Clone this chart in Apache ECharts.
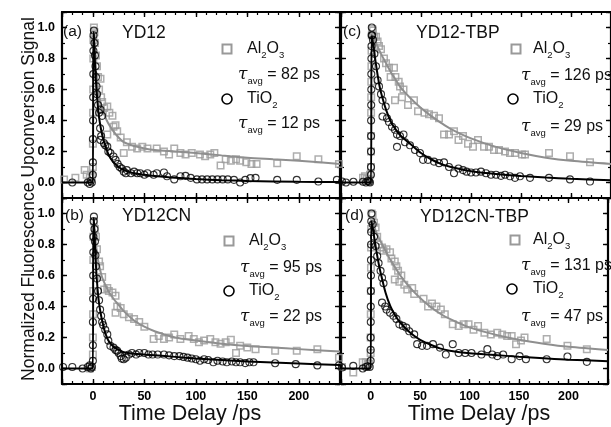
<!DOCTYPE html>
<html><head><meta charset="utf-8">
<script src="https://cdn.jsdelivr.net/npm/echarts@6/dist/echarts.min.js"></script>
<style>html,body{margin:0;padding:0;background:#fff}#c{width:611px;height:427px}</style>
</head><body><div id="c"></div>
<script>
// ---------- tick labels / text ----------
const xTickLabels = ['0', '50', '100', '150', '200'];
const yTickLabels = ['0.0', '0.2', '0.4', '0.6', '0.8', '1.0'];
const panelLabels = ['(a)', '(b)', '(c)', '(d)'];
const panelTitles = ['YD12', 'YD12CN', 'YD12-TBP', 'YD12CN-TBP'];
const tauAl = ['82', '95', '126', '131'];
const tauTi = ['12', '22', '29', '47'];
const xTitle = 'Time Delay /ps';
const yTitle = 'Normalized Fluorescence Upconversion Signal';

// ---------- panel (a) YD12 ----------
const aAl2O3 = [[-28,0.02],[-17,0.03],[-8,0.08],[-6,0.05],[-3,0.03],[-1,0.04],
 [0,0.1],[0,0.25],[0.2,0.45],[0.3,0.6],[0.4,0.8],[0.5,0.92],[1,1.0],[1.5,0.97],
 [2,0.9],[3,0.82],[4,0.75],[5,0.68],[6,0.6],[7.4,0.67],[8,0.55],[9,0.52],[11,0.48],[14,0.49],[16,0.45],[19,0.43],
 [14,0.31],[20,0.36],[22,0.37],[23.6,0.33],[27,0.29],[30,0.19],[33,0.26],[38,0.23],[43,0.22],[48,0.23],[53,0.22],
 [62,0.22],[69,0.2],[74,0.18],[79,0.22],[85,0.19],[90,0.18],[96,0.19],[104,0.18],[109,0.17],[114,0.18],[118,0.19],
 [124,0.11],[129,0.15],[134,0.14],[139,0.15],[143,0.14],[149,0.13],[154,0.12],[159,0.12],[179,0.125],[198,0.17],[219,0.15],[239,0.12]];
const aAl2O3Fit = [[1.5,0.9],[3,0.72],[5,0.6],[8,0.5],[11,0.44],[15,0.38],[20,0.33],[25,0.29],[30,0.26],[40,0.235],[50,0.22],
 [60,0.21],[80,0.2],[100,0.19],[125,0.175],[150,0.16],[175,0.15],[200,0.14],[220,0.13],[240,0.12]];
const aTiO2 = [[-20,0],[-5,0],[-3,-0.01],[-2,0.01],[-1,0],
 [0,0.05],[0,0.13],[0,0.28],[0.2,0.4],[0.3,0.55],[0.4,0.7],[0.5,0.85],[0.6,0.95],[1,0.98],
 [1.5,0.9],[2,0.82],[2.5,0.75],[3,0.68],[3.5,0.62],[4,0.57],[5,0.5],[6,0.45],[7.4,0.47],[9,0.43],[7,0.35],[8,0.3],
 [7.4,0.275],[10.7,0.254],[12,0.24],[14,0.232],[15,0.2],[17,0.19],[20,0.168],[22,0.146],[24,0.12],[26,0.1],[28,0.09],
 [30,0.07],[32,0.06],[33,0.08],[37,0.06],[40,0.07],[43,0.06],[46,0.06],[50,0.05],[53,0.06],[59,0.05],[62,0.06],[69,0.065],
 [72,0.04],[79,0.02],[85,0.04],[90,0.043],[95,0.03],[101,0.02],[106,0.02],[111,0.02],[116,0.02],[121,0.02],[126,0.02],
 [131,0.02],[137,0.017],[143,0.0],[148,0.017],[153,0.028],[158,0.03],[179,0.017],[198,0.017],[219,0.006],[237,0.017]];
const aTiO2Fit = [[-30,0],[0,0],[0.4,0.97],[1,0.95],[2,0.78],[3,0.65],[4,0.56],[5,0.48],[6,0.42],[8,0.34],[10,0.28],[12,0.24],
 [14,0.2],[16,0.17],[20,0.13],[25,0.1],[30,0.08],[40,0.06],[50,0.05],[60,0.042],[80,0.03],[100,0.022],[125,0.015],
 [150,0.01],[200,0.005],[240,0.003]];

// ---------- panel (b) YD12CN ----------
const bAl2O3 = [[-3,0.0],[-1,0.01],
 [0,0.09],[0,0.2],[0.2,0.35],[0.3,0.5],[0.4,0.7],[0.5,0.85],[1,0.95],
 [2,0.9],[3,0.85],[4,0.77],[6,0.69],[7,0.66],[9,0.59],[11,0.51],[14,0.52],[15.5,0.5],[19,0.49],[22,0.47],[22,0.36],
 [23.6,0.4],[27,0.39],[30,0.35],[35,0.33],[40,0.32],[45,0.3],[50,0.27],[59,0.19],[64,0.21],[69,0.19],[74,0.2],[79,0.22],
 [85,0.19],[93,0.21],[98,0.19],[103,0.17],[108,0.18],[114,0.19],[119,0.17],[124,0.16],[129,0.17],[134,0.185],[139,0.1],
 [143,0.146],[150,0.135],[158,0.125],[177,0.114],[198,0.114],[218,0.125],[239,0.07]];
const bAl2O3Fit = [[1.5,0.9],[3,0.8],[5,0.7],[8,0.61],[10,0.57],[15,0.5],[20,0.45],[25,0.41],[30,0.37],[40,0.31],[50,0.27],
 [60,0.24],[80,0.2],[100,0.18],[125,0.16],[150,0.145],[175,0.135],[200,0.125],[240,0.11]];
const bTiO2 = [[-29,0.01],[-20,0.01],[-10,0.0],[-5,0.01],[-3,0.02],[-2,0.0],[-1,0.01],
 [0,0.05],[0,0.15],[0,0.3],[0.2,0.45],[0.3,0.6],[0.4,0.75],[0.5,0.85],[0.7,0.95],[1,0.98],
 [1.5,0.9],[2,0.82],[2.5,0.73],[3,0.66],[4,0.58],[5,0.5],[6,0.44],[7,0.38],[8,0.34],[9,0.3],[10,0.28],[12,0.25],[14,0.22],
 [15,0.18],[17,0.146],[20,0.135],[22,0.12],[23.6,0.114],[25,0.1],[27,0.08],[28,0.064],[30,0.06],[32,0.07],[35,0.09],
 [38,0.1],[42,0.09],[45,0.1],[50,0.1],[54,0.09],[58,0.09],[63,0.09],[69,0.09],[74,0.085],[79,0.08],[84,0.08],[88,0.075],
 [92,0.07],[96,0.065],[100,0.06],[104,0.05],[108,0.06],[112,0.055],[117,0.04],[121,0.05],[126,0.045],[130,0.04],
 [135,0.045],[139,0.04],[143,0.04],[148,0.035],[152,0.04],[156,0.04],[177,0.034],[197,0.028],[218,0.02],[239,0.02]];
const bTiO2Fit = [[-30,0],[0,0],[0.4,0.97],[1,0.95],[2,0.8],[3,0.66],[4,0.56],[5,0.48],[6,0.42],[8,0.34],[10,0.28],[12,0.23],
 [15,0.18],[20,0.14],[25,0.12],[30,0.105],[40,0.095],[50,0.09],[60,0.085],[80,0.075],[100,0.065],[125,0.055],[150,0.045],
 [175,0.038],[200,0.032],[240,0.022]];

// ---------- panel (c) YD12-TBP ----------
const cAl2O3 = [[-8,0.03],[-6,0.04],[-4,0.025],[-2,0.02],[-1,0.05],
 [0,0.1],[0,0.2],[0,0.3],[0.1,0.45],[0.2,0.55],[0.3,0.65],[0.4,0.75],[0.5,0.85],[0.8,0.95],[1.2,0.99],
 [2,0.98],[3,0.94],[5,0.94],[6.6,0.91],[8,0.88],[10,0.86],[13,0.8],[15,0.77],[18,0.74],[23,0.74],[19.6,0.68],[24.4,0.68],
 [27.7,0.65],[29,0.62],[32.5,0.6],[24,0.53],[31,0.55],[37,0.5],[43,0.53],[47,0.46],[53.5,0.45],[58,0.44],[63,0.43],
 [68,0.415],[73,0.31],[78,0.31],[83,0.33],[87.5,0.275],[92,0.3],[97,0.25],[102,0.23],[107,0.275],[113,0.23],[118,0.23],
 [123,0.21],[128,0.21],[134,0.2],[139,0.19],[144,0.19],[151,0.18],[154,0.18],[178,0.19],[199,0.17],[219,0.13]];
const cAl2O3Fit = [[2,0.95],[5,0.9],[10,0.83],[15,0.77],[20,0.71],[25,0.66],[30,0.61],[40,0.54],[50,0.48],[60,0.43],
 [70,0.385],[80,0.345],[100,0.285],[125,0.23],[150,0.19],[175,0.16],[200,0.14],[240,0.12]];
const cTiO2 = [[-29,0.006],[-25,0.0],[-17.6,0.005],[-8,0.005],[-5,0.0],[-3,0.01],[-2,0.005],[-1,0.0],
 [0,0.05],[0,0.1],[0,0.2],[0.1,0.3],[0.1,0.4],[0.2,0.5],[0.3,0.6],[0.3,0.7],[0.4,0.8],[0.5,0.88],[0.6,0.95],[0.8,1.0],
 [1.2,0.95],[2,0.92],[3.4,0.83],[5,0.75],[6.6,0.66],[8,0.62],[10,0.57],[11.5,0.53],[14.7,0.49],[11.5,0.426],[16,0.415],
 [18,0.39],[21,0.36],[24,0.34],[26,0.31],[29,0.3],[32.5,0.31],[34,0.26],[26,0.23],[39,0.24],[44,0.21],[49,0.19],[52,0.146],
 [57,0.146],[63,0.135],[68,0.125],[73,0.13],[78,0.1],[83,0.06],[87.5,0.09],[92,0.08],[95.6,0.07],[100,0.065],[105,0.065],
 [110,0.07],[115,0.06],[120,0.05],[125,0.05],[130,0.043],[134,0.05],[139,0.04],[144,0.03],[149,0.04],[159,0.03],
 [178,0.03],[199,0.02],[219,0.006]];
const cTiO2Fit = [[-30,0],[0,0],[0.6,0.95],[2,0.9],[5,0.76],[8,0.64],[10,0.58],[15,0.47],[20,0.39],[25,0.34],[30,0.3],
 [40,0.245],[50,0.19],[60,0.15],[70,0.12],[80,0.1],[90,0.085],[100,0.073],[125,0.055],[150,0.042],[175,0.032],
 [200,0.024],[240,0.015]];

// ---------- panel (d) YD12CN-TBP ----------
const dAl2O3 = [[-29,0.01],[-17.6,-0.026],[-8,0.04],[-5,0.04],[-3,0.03],[-1.5,0.03],
 [0,0.1],[0,0.2],[0.1,0.35],[0.2,0.5],[0.3,0.65],[0.4,0.78],[0.5,0.9],[1,1.0],
 [2,0.99],[3.4,0.94],[5,0.91],[6.6,0.85],[8,0.8],[11.5,0.78],[13,0.76],[16,0.77],[19.6,0.75],[21,0.71],[24.4,0.69],
 [26,0.66],[27.7,0.63],[24.4,0.575],[29,0.56],[31,0.6],[34,0.54],[37,0.51],[42,0.52],[44,0.48],[53.5,0.45],[58,0.4],
 [62,0.42],[66.5,0.4],[71,0.38],[75,0.35],[83,0.285],[89,0.275],[94,0.285],[99,0.285],[104,0.25],[108.6,0.275],
 [115,0.23],[121.5,0.22],[128,0.23],[133,0.22],[138,0.21],[142.6,0.21],[147,0.157],[152,0.18],[155.6,0.2],
 [178,0.19],[199,0.146],[218.6,0.125]];
const dAl2O3Fit = [[2,0.95],[5,0.89],[10,0.82],[15,0.76],[20,0.7],[25,0.65],[30,0.6],[40,0.52],[50,0.455],[60,0.4],
 [70,0.355],[80,0.32],[100,0.265],[125,0.22],[150,0.185],[175,0.16],[200,0.14],[240,0.12]];
const dTiO2 = [[-29,0.006],[-17.6,0.017],[-8,0.0],[-5,0.01],[-3,0.015],[-1,0.01],
 [0,0.05],[0,0.12],[0,0.2],[0.1,0.3],[0.1,0.4],[0.2,0.5],[0.3,0.6],[0.3,0.7],[0.4,0.8],[0.5,0.88],[0.6,0.95],[0.8,1.0],
 [2,0.93],[3.4,0.85],[5,0.79],[6.6,0.725],[8,0.68],[10,0.63],[11.5,0.585],[13,0.55],[11.5,0.425],[14.7,0.4],[16,0.38],
 [19.6,0.36],[23,0.34],[26,0.32],[29,0.285],[32.5,0.275],[36,0.264],[39,0.24],[44,0.22],[47,0.157],[52,0.146],
 [57,0.146],[63,0.157],[70,0.135],[76,0.09],[83,0.157],[89,0.1],[95.6,0.1],[102,0.1],[112,0.09],[118,0.125],[123,0.09],
 [128,0.08],[134,0.09],[142.6,0.06],[150.6,0.08],[157,0.06],[178,0.06],[199,0.077],[218.6,0.043]];
const dTiO2Fit = [[-30,0],[0,0],[0.6,0.95],[2,0.91],[5,0.79],[8,0.68],[10,0.62],[15,0.49],[20,0.4],[25,0.34],[30,0.295],
 [40,0.23],[50,0.185],[60,0.155],[70,0.13],[80,0.115],[100,0.098],[125,0.087],[150,0.076],[175,0.066],[200,0.057],
 [240,0.047]];

// ---------- build ----------
const FONT = '"Liberation Sans", Arial, Helvetica, sans-serif';
const panels = [
  {al: aAl2O3, alFit: aAl2O3Fit, ti: aTiO2, tiFit: aTiO2Fit},
  {al: bAl2O3, alFit: bAl2O3Fit, ti: bTiO2, tiFit: bTiO2Fit},
  {al: cAl2O3, alFit: cAl2O3Fit, ti: cTiO2, tiFit: cTiO2Fit},
  {al: dAl2O3, alFit: dAl2O3Fit, ti: dTiO2, tiFit: dTiO2Fit}
];
const gridBoxes = [
  {left: 62, top: 12, width: 278, height: 186},
  {left: 62, top: 198, width: 278, height: 186},
  {left: 341, top: 12, width: 278, height: 186},
  {left: 341, top: 198, width: 278, height: 186}
];
const XMIN = -30, XMAX = 240, YMIN = -0.1, YMAX = 1.1;
const lineS = {color: '#000', width: 2.2};
const majTick = {show: true, inside: true, length: 5, lineStyle: {color: '#000', width: 1.4}};
const minTick = {show: true, inside: true, length: 3, lineStyle: {color: '#000', width: 1.2}};
const lblStyle = {fontFamily: FONT, fontSize: 12.5, fontWeight: 'bold', color: '#000'};

const xAxis = [], yAxis = [], series = [];
gridBoxes.forEach((gb, g) => {
  const bottomRow = (g === 1 || g === 3);
  const leftCol = (g === 0 || g === 1);
  const bx = {type: 'value', gridIndex: g, min: XMIN, max: XMAX, splitLine: {show: false}};
  xAxis.push(
    Object.assign({}, bx, {position: 'bottom', splitNumber: 5, axisLine: {show: true, onZero: false, lineStyle: lineS},
      axisTick: majTick, axisLabel: Object.assign({show: bottomRow, margin: 6, hideOverlap: false,
      formatter: v => xTickLabels.includes(String(v)) ? String(v) : ''}, lblStyle)}),
    Object.assign({}, bx, {position: 'bottom', interval: 10, axisLine: {show: false, onZero: false}, axisTick: minTick, axisLabel: {show: false}}),
    Object.assign({}, bx, {position: 'top', splitNumber: 5, axisLine: {show: true, onZero: false, lineStyle: lineS}, axisTick: majTick, axisLabel: {show: false}}),
    Object.assign({}, bx, {position: 'top', interval: 10, axisLine: {show: false, onZero: false}, axisTick: minTick, axisLabel: {show: false}})
  );
  const by = {type: 'value', gridIndex: g, min: YMIN, max: YMAX, splitLine: {show: false}};
  yAxis.push(
    Object.assign({}, by, {position: 'left', splitNumber: 6, axisLine: {show: true, onZero: false, lineStyle: lineS},
      axisTick: majTick, axisLabel: Object.assign({show: leftCol, margin: 7, hideOverlap: false,
      formatter: v => { const s = (Math.round(v * 10) / 10).toFixed(1); return yTickLabels.includes(s) ? s : ''; }}, lblStyle)}),
    Object.assign({}, by, {position: 'left', interval: 0.1, axisLine: {show: false, onZero: false}, axisTick: minTick, axisLabel: {show: false}}),
    Object.assign({}, by, {position: 'right', splitNumber: 6, axisLine: {show: true, onZero: false, lineStyle: lineS}, axisTick: majTick, axisLabel: {show: false}}),
    Object.assign({}, by, {position: 'right', interval: 0.1, axisLine: {show: false, onZero: false}, axisTick: minTick, axisLabel: {show: false}})
  );
  const p = panels[g];
  const ax = {xAxisIndex: 4 * g, yAxisIndex: 4 * g, silent: true, clip: true};
  series.push(
    Object.assign({type: 'scatter', data: p.al, symbol: 'rect', symbolSize: 6.5, z: 2,
      itemStyle: {color: 'rgba(0,0,0,0)', borderColor: '#9a9a9a', borderWidth: 1.5}}, ax),
    Object.assign({type: 'line', data: p.alFit, showSymbol: false, smooth: 0.3, z: 3,
      lineStyle: {color: '#8f8f8f', width: 2}}, ax),
    Object.assign({type: 'scatter', data: p.ti, symbol: 'circle', symbolSize: 7, z: 4,
      itemStyle: {color: 'rgba(0,0,0,0)', borderColor: '#000', borderWidth: 1.1}}, ax),
    Object.assign({type: 'line', data: p.tiFit, showSymbol: false, smooth: 0.3, z: 5,
      lineStyle: {color: '#000', width: 2}}, ax)
  );
});

// ---------- annotations ----------
const txtFill = '#111';
function txt(x, y, text, size, extra) {
  return {type: 'text', x: x, y: y, z: 100, silent: true,
    style: Object.assign({x: 0, y: 0, text: text, fill: txtFill, font: size + 'px ' + FONT,
      align: 'left', verticalAlign: 'middle', textAlign: 'left', textVerticalAlign: 'middle'}, extra || {})};
}
const subRich = {
  m: {fontSize: 16, fontFamily: FONT, fill: txtFill, lineHeight: 22, verticalAlign: 'middle'},
  s: {fontSize: 9.5, fontFamily: FONT, fill: txtFill, lineHeight: 7, verticalAlign: 'bottom'},
  t: {fontSize: 17, fontFamily: 'DejaVu Serif, serif', fontStyle: 'italic', fill: txtFill, lineHeight: 22, verticalAlign: 'middle'}
};
function rich(x, y, text) {
  return {type: 'text', x: x, y: y, z: 100, silent: true,
    style: {x: 0, y: 0, text: text, rich: subRich, fill: txtFill, font: '16px ' + FONT,
      align: 'left', verticalAlign: 'middle', textAlign: 'left', textVerticalAlign: 'middle'}};
}
const legendPos = [
  {sq: [227, 49], al: [247, 49], t1: [238, 75], ci: [227, 99], ti: [247, 99], t2: [238, 124], lab: [63, 32], tit: [122, 33]},
  {sq: [229, 241], al: [249, 241], t1: [240, 268], ci: [229, 291], ti: [249, 291], t2: [240, 317], lab: [65, 216], tit: [122, 216]},
  {sq: [516, 49], al: [533, 49], t1: [521, 76], ci: [513, 99], ti: [533, 99], t2: [521, 127], lab: [343, 32], tit: [416, 33]},
  {sq: [515, 240], al: [533, 240], t1: [521, 266], ci: [512, 289], ti: [533, 289], t2: [521, 317], lab: [345, 216], tit: [420, 217]}
];
const graphics = [];
legendPos.forEach((lp, g) => {
  graphics.push(txt(lp.lab[0], lp.lab[1], panelLabels[g], 15.5));
  graphics.push(txt(lp.tit[0], lp.tit[1], panelTitles[g], 17.5));
  graphics.push({type: 'rect', z: 100, silent: true, shape: {x: lp.sq[0] - 4.5, y: lp.sq[1] - 4.5, width: 9, height: 9},
    style: {fill: 'none', stroke: '#999', lineWidth: 2}});
  graphics.push({type: 'circle', z: 100, silent: true, shape: {cx: lp.ci[0], cy: lp.ci[1], r: 5},
    style: {fill: 'none', stroke: '#000', lineWidth: 1.6}});
  graphics.push(rich(lp.al[0], lp.al[1], '{m|Al}{s|2}{m|O}{s|3}'));
  graphics.push(rich(lp.ti[0], lp.ti[1], '{m|TiO}{s|2}'));
  graphics.push(rich(lp.t1[0], lp.t1[1], '{t|τ}{s|avg}{m| = ' + tauAl[g] + ' ps}'));
  graphics.push(rich(lp.t2[0], lp.t2[1], '{t|τ}{s|avg}{m| = ' + tauTi[g] + ' ps}'));
});
graphics.push(txt(190, 414, xTitle, 21.5, {align: 'center', textAlign: 'center'}));
graphics.push(txt(479, 414, xTitle, 21.5, {align: 'center', textAlign: 'center'}));
graphics.push({type: 'text', x: 29, y: 199, rotation: Math.PI / 2, z: 100, silent: true,
  style: {x: 0, y: 0, text: yTitle, fill: txtFill, font: '17.5px ' + FONT, align: 'center', verticalAlign: 'middle',
    textAlign: 'center', textVerticalAlign: 'middle'}});

const chart = echarts.init(document.getElementById('c'), null, {renderer: 'canvas'});
chart.setOption({
  animation: false,
  backgroundColor: '#fff',
  grid: gridBoxes.map(b => Object.assign({containLabel: false}, b)),
  xAxis: xAxis,
  yAxis: yAxis,
  series: series,
  graphic: graphics
});
</script></body></html>
